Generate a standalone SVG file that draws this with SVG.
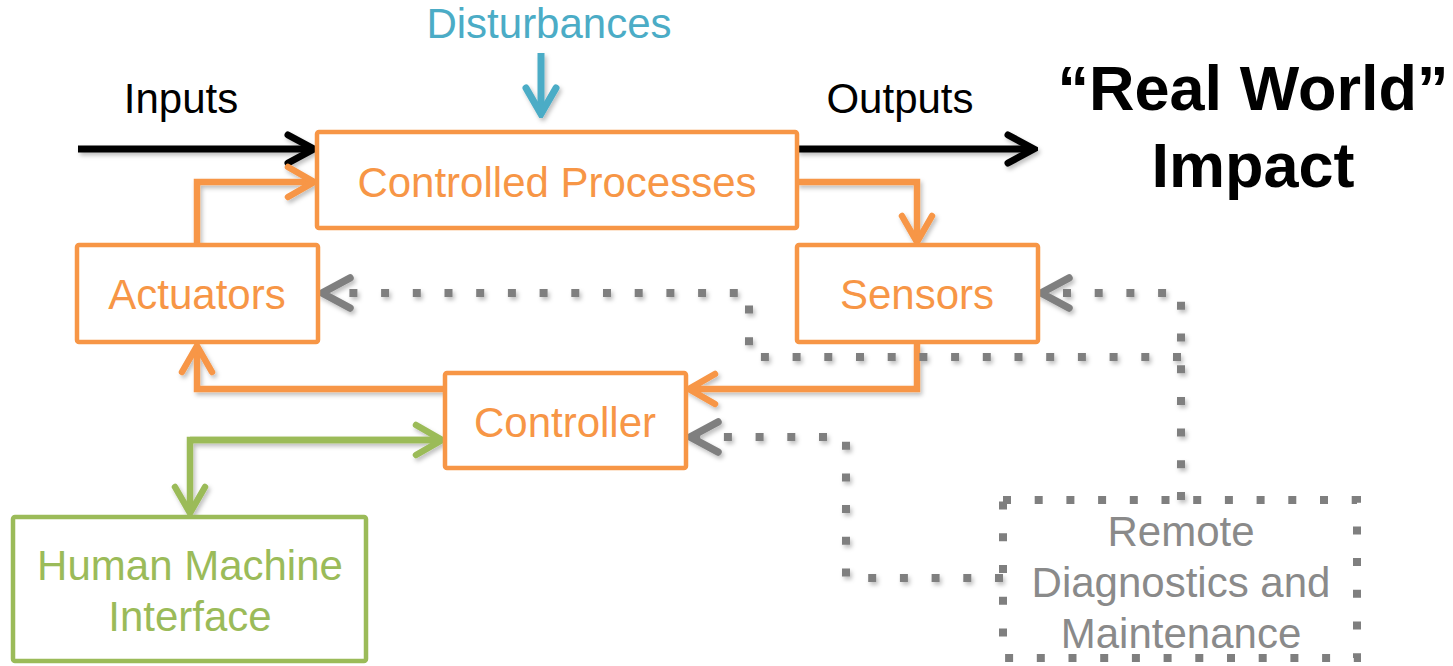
<svg xmlns="http://www.w3.org/2000/svg" width="1453" height="666" viewBox="0 0 1453 666">
<style>
text{font-family:"Liberation Sans",Arial,sans-serif;font-size:42px;text-anchor:middle}
.box{fill:#fff;stroke:#F79646;stroke-width:4.5}
.otext{fill:#F79646}
.gtext{fill:#9BBB59}
.rtext{fill:#8A8A8A}
.conn{fill:none;stroke-linejoin:miter}
.black{stroke:#000;stroke-width:7}
.orange{stroke:#F79646;stroke-width:6.5}
.green{stroke:#9BBB59;stroke-width:6.5}
.teal{stroke:#4BACC6;stroke-width:7}
.dot{stroke:#7F7F7F;stroke-width:8;stroke-dasharray:8 23.7}
</style>
<defs>
<filter id="sh" x="-10%" y="-10%" width="120%" height="130%">
<feDropShadow dx="2" dy="3" stdDeviation="2" flood-color="#000" flood-opacity="0.25"/>
</filter>
<marker id="aBlack" markerUnits="userSpaceOnUse" viewBox="-32 -20 36 40" markerWidth="36" markerHeight="40" refX="0" refY="0" orient="auto">
<path d="M-26 -14 L0 0 L-26 14" fill="none" stroke="#000" stroke-width="7" stroke-linecap="round" stroke-linejoin="miter"/>
</marker>
<marker id="aOrange" markerUnits="userSpaceOnUse" viewBox="-32 -20 36 40" markerWidth="36" markerHeight="40" refX="0" refY="0" orient="auto">
<path d="M-26 -15 L0 0 L-26 15" fill="none" stroke="#F79646" stroke-width="6.5" stroke-linecap="round"/>
</marker>
<marker id="aGreen" markerUnits="userSpaceOnUse" viewBox="-32 -20 36 40" markerWidth="36" markerHeight="40" refX="0" refY="0" orient="auto">
<path d="M-26 -15 L0 0 L-26 15" fill="none" stroke="#9BBB59" stroke-width="6.5" stroke-linecap="round"/>
</marker>
<marker id="aTeal" markerUnits="userSpaceOnUse" viewBox="-32 -20 36 40" markerWidth="36" markerHeight="40" refX="0" refY="0" orient="auto">
<path d="M-26 -15 L0 0 L-26 15" fill="none" stroke="#4BACC6" stroke-width="7" stroke-linecap="round"/>
</marker>
<marker id="aGray" markerUnits="userSpaceOnUse" viewBox="-32 -20 36 40" markerWidth="36" markerHeight="40" refX="0" refY="0" orient="auto">
<path d="M-28 -15 L0 0 L-28 15" fill="none" stroke="#7F7F7F" stroke-width="7.5" stroke-linecap="round" stroke-dasharray="none"/>
</marker>
</defs>
<rect width="1453" height="666" fill="#fff"/>

<g id="connectors" filter="url(#sh)">
<path class="conn black" d="M78 149 H314" marker-end="url(#aBlack)"/>
<path class="conn black" d="M797 149 H1034" marker-end="url(#aBlack)"/>
<path class="conn teal" d="M541 53 V114" marker-end="url(#aTeal)"/>
<path class="conn orange" d="M197 245 V182 H314" marker-end="url(#aOrange)"/>
<path class="conn orange" d="M797 182 H917 V242" marker-end="url(#aOrange)"/>
<path class="conn orange" d="M917 344 V389 H689" marker-end="url(#aOrange)"/>
<path class="conn orange" d="M445 389 H197 V346" marker-end="url(#aOrange)"/>
<path class="conn green" d="M190 440 H442" marker-end="url(#aGreen)"/>
<path class="conn green" d="M442 440 H190 V513" marker-end="url(#aGreen)"/>
<path class="conn dot" d="M1181 500 V293 H1041" marker-end="url(#aGray)"/>
<path class="conn dot" d="M1181 357 H749 V293 H322" marker-end="url(#aGray)"/>
<path class="conn dot" d="M1003 578 H846 V437 H690" marker-end="url(#aGray)"/>
</g>

<g id="disturbances"><text x="549" y="38" fill="#4BACC6">Disturbances</text></g>
<g id="inputs"><text x="181" y="113" fill="#000">Inputs</text></g>
<g id="outputs"><text x="900" y="113" fill="#000">Outputs</text></g>
<g id="real-world">
<text x="1253" y="110" fill="#000" font-weight="bold" style="font-size:63px">“Real World”</text>
<text x="1253" y="187" fill="#000" font-weight="bold" style="font-size:63px">Impact</text>
</g>

<g id="controlled-processes">
<rect class="box" x="317" y="132" width="480" height="96" rx="2"/>
<text class="otext" x="557" y="197">Controlled Processes</text>
</g>
<g id="actuators">
<rect class="box" x="77" y="245" width="241" height="97" rx="2"/>
<text class="otext" x="197" y="309">Actuators</text>
</g>
<g id="sensors">
<rect class="box" x="797" y="245" width="241" height="97" rx="2"/>
<text class="otext" x="917" y="309">Sensors</text>
</g>
<g id="controller">
<rect class="box" x="445" y="373" width="241" height="95" rx="2"/>
<text class="otext" x="565" y="437">Controller</text>
</g>
<g id="hmi">
<rect x="13" y="517" width="353" height="144" rx="2" fill="#fff" stroke="#9BBB59" stroke-width="4.5"/>
<text class="gtext" x="190" y="580">Human Machine</text>
<text class="gtext" x="190" y="631">Interface</text>
</g>
<g id="remote">
<rect x="1003" y="500" width="354" height="158" fill="none" stroke="#7F7F7F" stroke-width="8" stroke-dasharray="8 23.7"/>
<text class="rtext" x="1181" y="546">Remote</text>
<text class="rtext" x="1181" y="597">Diagnostics and</text>
<text class="rtext" x="1181" y="648">Maintenance</text>
</g>
</svg>
